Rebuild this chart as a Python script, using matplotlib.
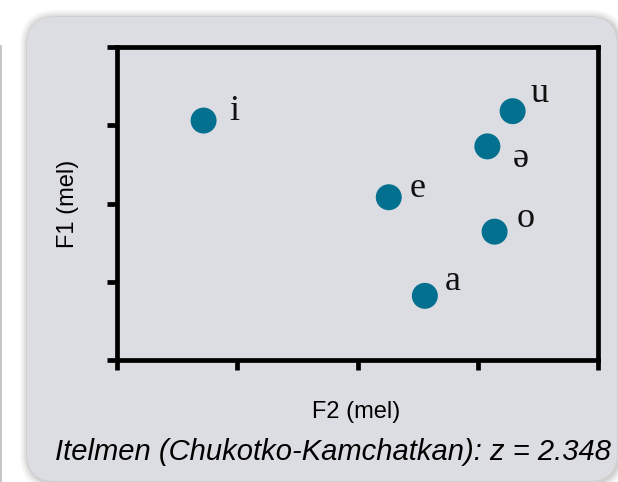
import matplotlib
matplotlib.use('Agg')
from matplotlib import pyplot as plt
from matplotlib.patches import FancyBboxPatch, Rectangle
from matplotlib.transforms import IdentityTransform

## vowel means (tick-step units; both axes reversed like a vowel chart)
vowels = ['i', 'u', 'ə', 'e', 'o', 'a']
f2 = [3.28, 0.71, 0.92, 1.74, 0.86, 1.44]
f1 = [0.94, 0.82, 1.27, 1.92, 2.36, 3.18]
ticks = [0, 1, 2, 3, 4]
title = 'Itelmen (Chukotko-Kamchatkan): z = 2.348'

# label offsets in pixels (dx, dy) from each point
offsets = [(31, 1), (27, 9), (33, -21), (29, 0), (31, 5), (28, 6)]

dot_col = '#04708f'
panel_col = '#dcdde2'

fig = plt.figure(figsize=(6.18, 4.82), dpi=100)
fig.patch.set_facecolor('white')

### background panel with soft shadow
for k, a in [(8, 0.03), (6, 0.04), (4, 0.05), (2, 0.07)]:
    sh = FancyBboxPatch((27 - k + 1, 1 - k - 1), 590 + 2 * k, 464 + 2 * k,
                        boxstyle='round,pad=0,rounding_size=%d' % (28 + k),
                        transform=IdentityTransform(), facecolor='black',
                        edgecolor='none', alpha=a, zorder=-3)
    fig.add_artist(sh)
panel = FancyBboxPatch((27, 1), 590, 464, boxstyle='round,pad=0,rounding_size=28',
                       transform=IdentityTransform(), facecolor=panel_col,
                       edgecolor='none', zorder=-2)
fig.add_artist(panel)
# sliver of the neighbouring panel on the far left
fig.add_artist(Rectangle((0, 0), 2, 437, transform=IdentityTransform(),
                         facecolor='#c8c8cc', edgecolor='none', zorder=-2))

### axes
ax = fig.add_axes([117 / 618, 1 - 360 / 482, 481 / 618, 313 / 482])
ax.set_facecolor('none')
ax.scatter(f2, f1, s=350, color=dot_col, edgecolors='none', zorder=3)
for v, x, y, (dx, dy) in zip(vowels, f2, f1, offsets):
    ax.annotate(v, (x, y), xytext=(dx, dy), textcoords='offset pixels',
                ha='center', va='baseline', fontsize=26,
                family='Liberation Serif', color='#111111')

ax.set_xlim(4, 0)
ax.set_ylim(4, 0)
ax.set_xticks(ticks)
ax.set_yticks(ticks)
ax.set_xticklabels([])
ax.set_yticklabels([])
for sp in ax.spines.values():
    sp.set_linewidth(3.4)
ax.tick_params(direction='out', length=7.5, width=3.4, top=False, right=False)

ax.set_xlabel('F2 (mel)', fontsize=17, family='Liberation Sans', va='center')
ax.xaxis.set_label_coords(0.498, -0.166)
ax.set_ylabel('F1 (mel)', fontsize=17, family='Liberation Sans', va='center')
ax.yaxis.set_label_coords(-0.102, 0.5)

fig.text(333 / 618, 1 - 452 / 482, title, ha='center', va='center',
         fontsize=21, style='italic', family='Liberation Sans')

plt.savefig('out.png', dpi=100)
